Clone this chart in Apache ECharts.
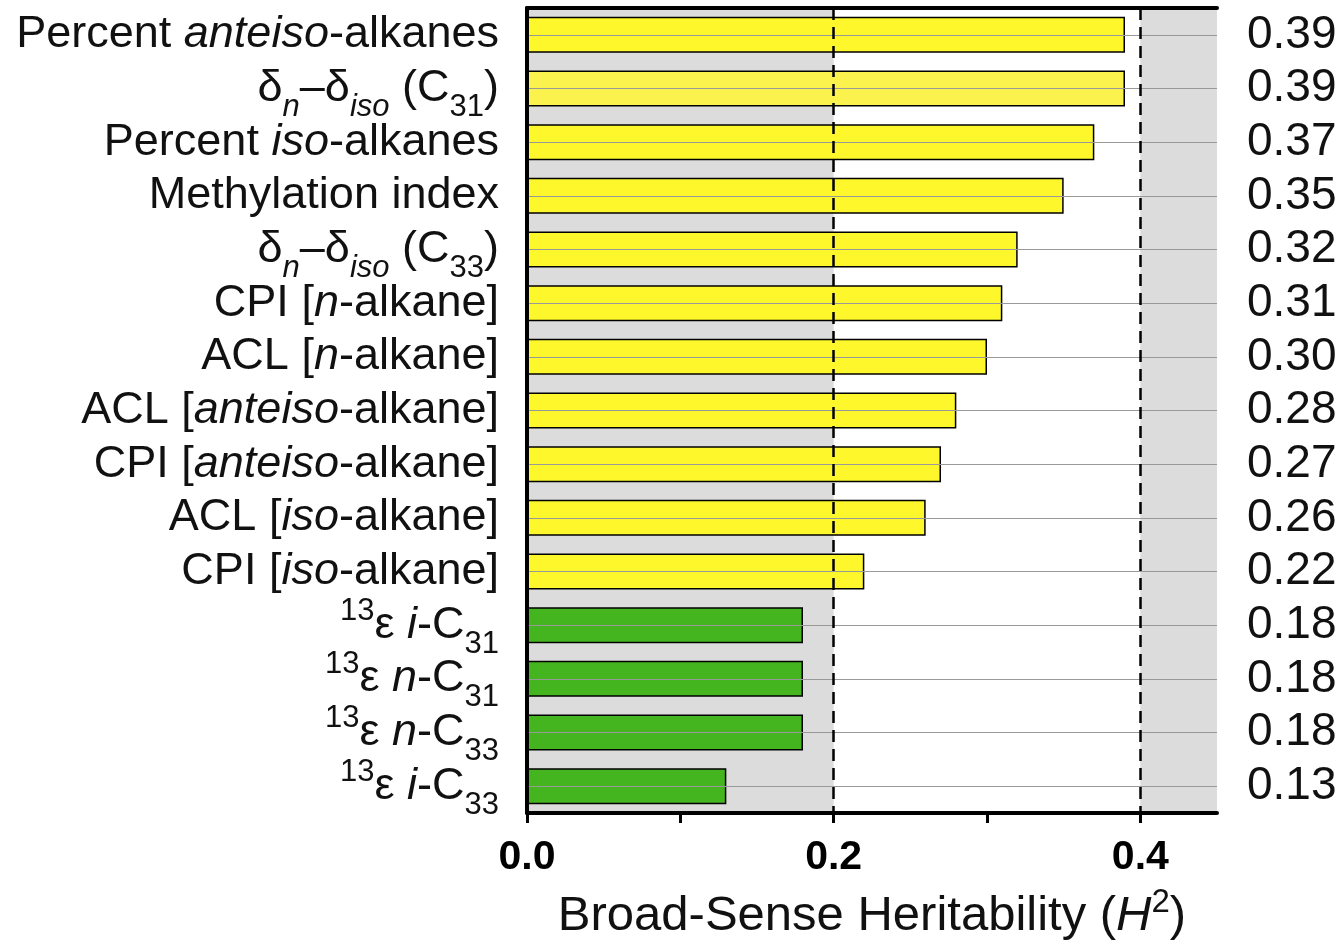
<!DOCTYPE html>
<html>
<head>
<meta charset="utf-8">
<script src="https://cdn.jsdelivr.net/npm/echarts@6/dist/echarts.min.js"></script>
<style>
html,body{margin:0;padding:0;background:#fff;}
#chart{width:1344px;height:946px;}
</style>
</head>
<body>
<div id="chart"></div>
<script>
// ---- data ----
const categories = [
  "Percent {i|anteiso}-alkanes",
  "δ{subi|n}–δ{subi|iso} (C{sub|31})",
  "Percent {i|iso}-alkanes",
  "Methylation index",
  "δ{subi|n}–δ{subi|iso} (C{sub|33})",
  "CPI [{i|n}-alkane]",
  "ACL [{i|n}-alkane]",
  "ACL [{i|anteiso}-alkane]",
  "CPI [{i|anteiso}-alkane]",
  "ACL [{i|iso}-alkane]",
  "CPI [{i|iso}-alkane]",
  "{sup|13}ε {i|i}-C{sub|31}",
  "{sup|13}ε {i|n}-C{sub|31}",
  "{sup|13}ε {i|n}-C{sub|33}",
  "{sup|13}ε {i|i}-C{sub|33}"
];
const values = [0.39, 0.39, 0.37, 0.35, 0.32, 0.31, 0.30, 0.28, 0.27, 0.26, 0.22, 0.18, 0.18, 0.18, 0.13];
const groups = ["distribution","distribution-alt","distribution","distribution","distribution","distribution","distribution","distribution","distribution","distribution","distribution","isotope","isotope","isotope","isotope"];
const xTicks = [0.0, 0.1, 0.2, 0.3, 0.4];
const xTickLabels = [0.0, 0.2, 0.4];
const thresholds = [0.2, 0.4];

// ---- styles ----
const groupColor = {"distribution": "#fdf72c", "distribution-alt": "#fbf24e", "isotope": "#45b51f"};
const FONT = "'Liberation Sans', Arial, sans-serif";

const chart = echarts.init(document.getElementById('chart'));
function makeRich(fs, sfs) {
  return {
    i: {fontStyle: 'italic', fontSize: fs, fontFamily: FONT, color: '#111'},
    sub: {fontSize: sfs, fontFamily: FONT, color: '#111', padding: [38, 0, 0, 0]},
    subi: {fontSize: sfs, fontStyle: 'italic', fontFamily: FONT, color: '#111', padding: [38, 0, 0, 0]},
    sup: {fontSize: sfs, fontFamily: FONT, color: '#111', padding: [0, 0, 28, 0]}
  };
}

const option = {
  animation: false,
  backgroundColor: '#ffffff',
  textStyle: {fontFamily: FONT},
  grid: {left: 527, right: 127, top: 8, bottom: 133, outerBoundsMode: 'none', containLabel: false,
         show: true, backgroundColor: '#dcdcdc', borderWidth: 0},
  xAxis: [{
    type: 'value', min: 0, max: 0.45, interval: 0.1, z: 10,
    name: 'Broad-Sense Heritability ({i|H}{sup|2})',
    nameLocation: 'middle', nameGap: 73,
    nameTextStyle: {fontSize: 49, color: '#111', fontFamily: FONT, rich: makeRich(49, 33)},
    axisLine: {show: true, lineStyle: {color: '#000', width: 4}},
    axisTick: {show: true, length: 10, customValues: xTicks, lineStyle: {color: '#000', width: 3}},
    axisLabel: {
      fontSize: 41, fontWeight: 'bold', color: '#000', margin: 24, fontFamily: FONT,
      customValues: xTickLabels,
      formatter: function (v) { return Number(v).toFixed(1); }
    },
    splitLine: {show: false}
  }, {
    type: 'value', min: 0, max: 0.45, position: 'top', z: 10,
    axisLine: {show: true, lineStyle: {color: '#000', width: 4}},
    axisTick: {show: false}, axisLabel: {show: false}, splitLine: {show: false}
  }],
  yAxis: [{
    type: 'category', data: categories, inverse: true, z: 10,
    axisLine: {show: true, lineStyle: {color: '#000', width: 3}},
    axisTick: {show: false},
    axisLabel: {interval: 0, fontSize: 45, color: '#111', margin: 28, fontFamily: FONT, rich: makeRich(45, 31)},
    splitLine: {show: false}
  }, {
    type: 'category', data: values.map(v => v.toFixed(2)), inverse: true, position: 'right', z: 10,
    axisLine: {show: true, lineStyle: {color: '#000', width: 4}},
    axisTick: {show: false},
    axisLabel: {interval: 0, fontSize: 46, color: '#111', margin: 30, fontFamily: FONT},
    splitLine: {show: false}
  }],
  series: [{
    type: 'line', data: [], z: 1, silent: true,
    markArea: {
      silent: true,
      itemStyle: {color: '#ffffff'},
      label: {show: false},
      data: [[{xAxis: thresholds[0]}, {xAxis: thresholds[1]}]]
    },
    markLine: {
      silent: true, symbol: 'none', label: {show: false},
      lineStyle: {color: '#999', width: 1, type: 'solid'},
      data: categories.map((c, i) => ({yAxis: i}))
    }
  }, {
    type: 'bar', z: 3, barWidth: 36,
    data: values.map((v, i) => ({value: v, itemStyle: {color: groupColor[groups[i]]}})),
    itemStyle: {borderColor: '#000', borderWidth: 1.5},
    markLine: {
      silent: true, symbol: 'none', label: {show: false},
      lineStyle: {color: '#000', width: 2.5, type: [12, 7]},
      data: thresholds.map(t => ({xAxis: t}))
    }
  }]
};
chart.setOption(option);
</script>
</body>
</html>
